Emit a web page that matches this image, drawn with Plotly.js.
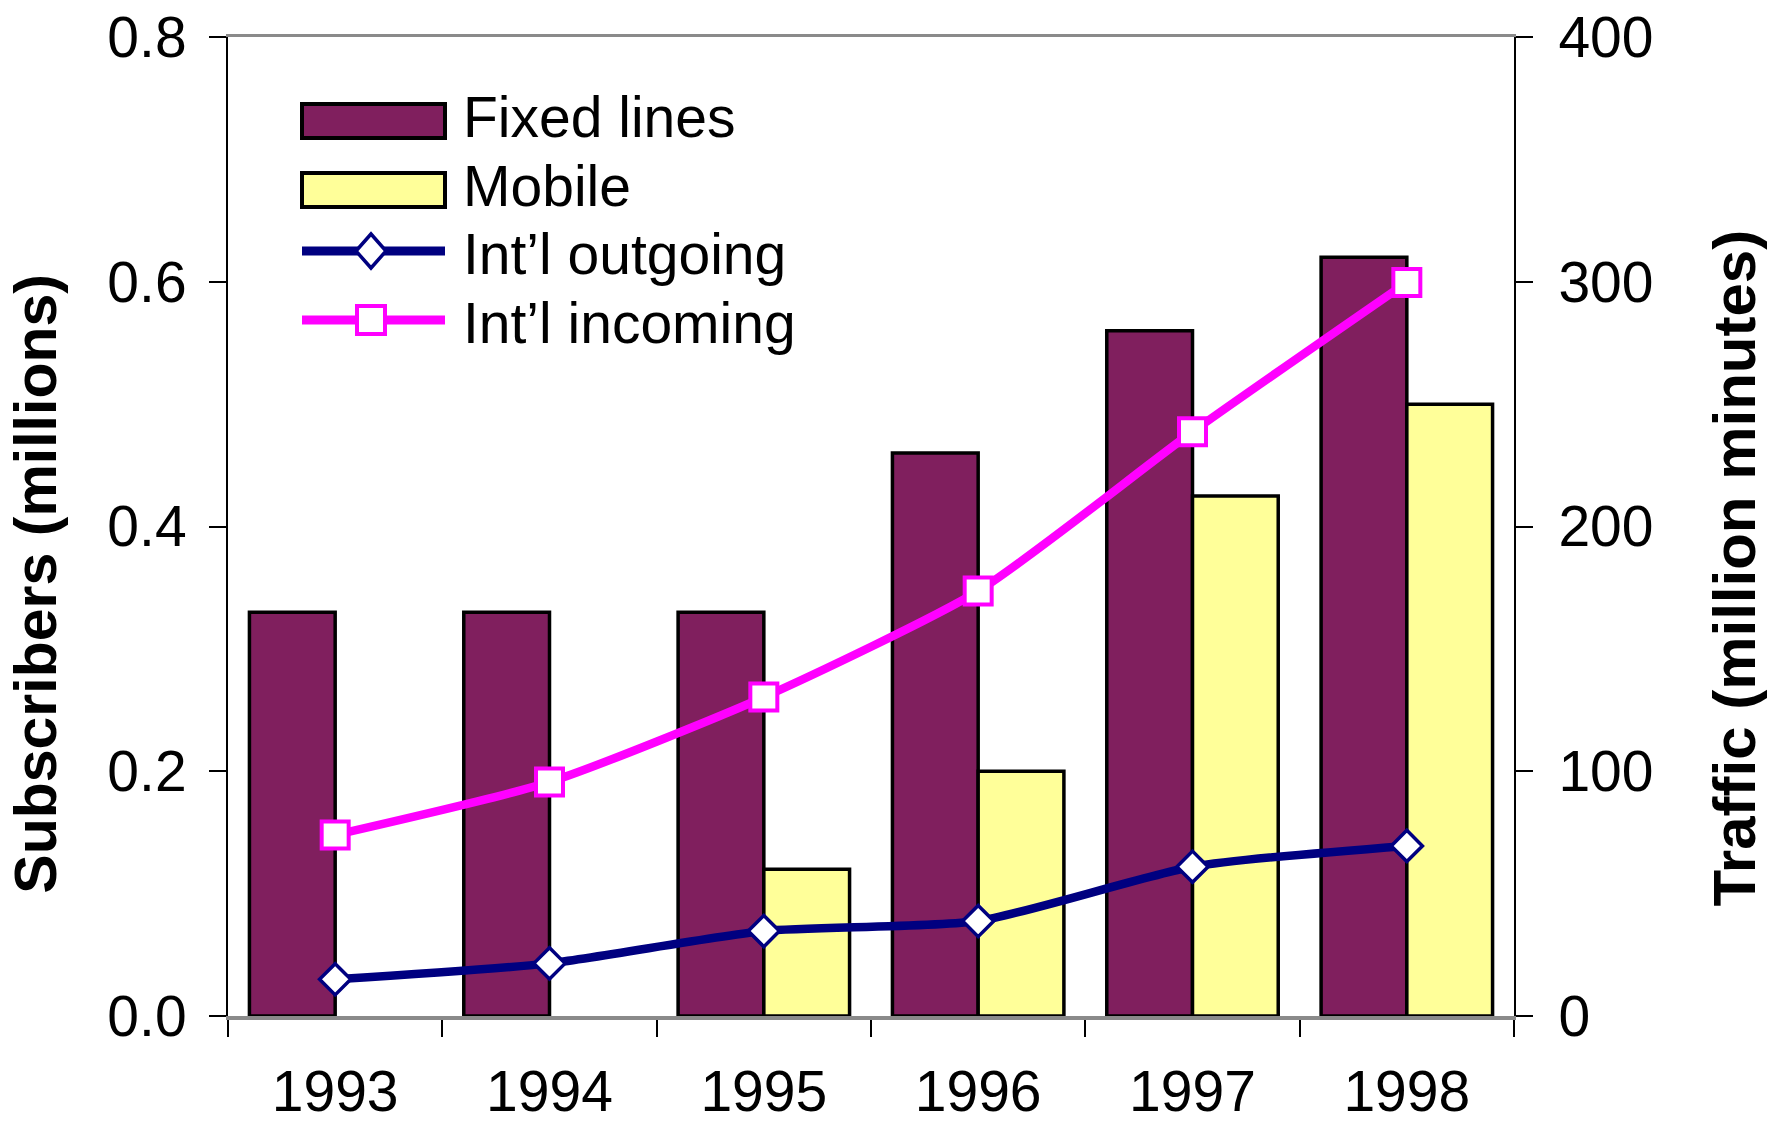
<!DOCTYPE html>
<html>
<head>
<meta charset="utf-8">
<script src="https://cdn.plot.ly/plotly-3.0.1.min.js"></script>
<style>html,body{margin:0;padding:0;background:#fff;}#chart{width:1772px;height:1124px;}</style>
</head>
<body>
<div id="chart"></div>
<script>
// ---- data ----
const years = ['1993', '1994', '1995', '1996', '1997', '1998'];
const fixedLines = [0.33, 0.33, 0.33, 0.46, 0.56, 0.62];        // millions of subscribers
const mobile = [null, null, 0.12, 0.20, 0.425, 0.50];           // millions of subscribers
const intlOutgoing = [15, 21.5, 34.7, 38.8, 61, 69.5];          // million minutes
const intlIncoming = [74, 95.6, 130.3, 173.6, 238.7, 299.7];    // million minutes
const seriesNames = ['Fixed lines', 'Mobile', 'Int\u2019l outgoing', 'Int\u2019l incoming'];
const leftTicks = [0, 0.2, 0.4, 0.6, 0.8];
const rightTicks = [0, 100, 200, 300, 400];

// ---- style ----
const FONT = 'Liberation Sans, Arial, Helvetica, sans-serif';
const C_FIXED = '#801F5E', C_MOBILE = '#FFFF99', C_OUT = '#000080', C_IN = '#FF00FF';
const W = 1772, H = 1124, ML = 228, MR = 258, MT = 37, MB = 108;
const PW = W - ML - MR, PH = H - MT - MB;
const pxX = x => (x - ML) / PW;
const pxY = y => 1 - (y - MT) / PH;
// invisible trailing text used only to shift the centred axis titles like in the reference
const pad = s => '<span style="color:rgba(0,0,0,0)">' + s + '</span>';

const traces = [
  {type: 'bar', name: seriesNames[0], x: years, y: fixedLines, yaxis: 'y', xaxis: 'x',
   marker: {color: C_FIXED, line: {color: '#000', width: 3.5}}},
  {type: 'bar', name: seriesNames[1], x: years, y: mobile, yaxis: 'y', xaxis: 'x',
   marker: {color: C_MOBILE, line: {color: '#000', width: 3.5}}},
  {type: 'scatter', mode: 'lines+markers', name: seriesNames[2], x: years, y: intlOutgoing, yaxis: 'y2', xaxis: 'x',
   line: {color: C_OUT, width: 8.5, shape: 'spline', smoothing: 0.6},
   marker: {symbol: 'diamond', size: 24, color: '#fff', line: {color: C_OUT, width: 3.5}}},
  {type: 'scatter', mode: 'lines+markers', name: seriesNames[3], x: years, y: intlIncoming, yaxis: 'y2', xaxis: 'x',
   line: {color: C_IN, width: 8.5, shape: 'spline', smoothing: 0.6},
   marker: {symbol: 'square', size: 27, color: '#fff', line: {color: C_IN, width: 4}}}
];

// custom legend (wide swatches like the reference)
const rows = [121, 190, 251, 320];
const textDy = [-4, -4, 3, 3];
const sx0 = pxX(302), sx1 = pxX(445), mx = pxX(371);
const shapes = [
  {type: 'rect', xref: 'paper', yref: 'paper', x0: sx0, x1: sx1, y0: pxY(rows[0] + 17), y1: pxY(rows[0] - 17),
   fillcolor: C_FIXED, line: {color: '#000', width: 4}},
  {type: 'rect', xref: 'paper', yref: 'paper', x0: sx0, x1: sx1, y0: pxY(rows[1] + 17), y1: pxY(rows[1] - 17),
   fillcolor: C_MOBILE, line: {color: '#000', width: 4}},
  {type: 'line', xref: 'paper', yref: 'paper', x0: sx0, x1: sx1, y0: pxY(rows[2]), y1: pxY(rows[2]),
   line: {color: C_OUT, width: 9}},
  {type: 'path', xref: 'paper', yref: 'paper',
   path: 'M' + pxX(356) + ',' + pxY(rows[2]) + ' L' + mx + ',' + pxY(rows[2] - 17) + ' L' + pxX(386) + ',' + pxY(rows[2]) +
         ' L' + mx + ',' + pxY(rows[2] + 17) + ' Z',
   fillcolor: '#fff', line: {color: C_OUT, width: 3.5}},
  {type: 'line', xref: 'paper', yref: 'paper', x0: sx0, x1: sx1, y0: pxY(rows[3]), y1: pxY(rows[3]),
   line: {color: C_IN, width: 9}},
  {type: 'rect', xref: 'paper', yref: 'paper', x0: pxX(357), x1: pxX(385), y0: pxY(rows[3] + 14), y1: pxY(rows[3] - 14),
   fillcolor: '#fff', line: {color: C_IN, width: 4}}
];
const annotations = seriesNames.map((t, i) => ({
  xref: 'paper', yref: 'paper', x: pxX(461), y: pxY(rows[i] + textDy[i]), xanchor: 'left', yanchor: 'middle',
  text: t, showarrow: false, font: {family: FONT, size: 57, color: '#000'}
}));

const tickFont = {family: FONT, size: 57, color: '#000'};
const titleFontL = {family: FONT, size: 59, color: '#000', weight: 'bold'};
const titleFontR = {family: FONT, size: 60, color: '#000', weight: 'bold'};

const layout = {
  width: W, height: H,
  margin: {l: ML, r: MR, t: MT, b: MB, pad: 0},
  paper_bgcolor: '#fff', plot_bgcolor: '#fff',
  showlegend: false,
  barmode: 'group', bargap: 0.2, bargroupgap: 0,
  font: {family: FONT, color: '#000'},
  xaxis: {type: 'category', categoryorder: 'array', categoryarray: years, range: [-0.5, 5.5],
    tickson: 'boundaries', ticks: 'outside', ticklen: 17, tickwidth: 2, tickcolor: '#000',
    showline: true, linecolor: '#8a8a8a', linewidth: 3.5, mirror: true, layer: 'below traces',
    showgrid: false, zeroline: false, tickfont: tickFont, ticklabelstandoff: 23, fixedrange: true},
  xaxis2: {overlaying: 'x', anchor: 'y', side: 'bottom', range: [-0.5, 5.5], tickmode: 'array',
    tickvals: [-0.5, 0.5, 1.5, 2.5, 3.5, 4.5, 5.5], ticks: 'inside', ticklen: 16, tickwidth: 2, tickcolor: '#000',
    showticklabels: false, showline: false, showgrid: false, zeroline: false, fixedrange: true},
  yaxis: {range: [0, 0.8], tickmode: 'array', tickvals: leftTicks, tickformat: '.1f',
    ticks: 'outside', ticklen: 17, tickwidth: 2, tickcolor: '#000',
    showline: true, linecolor: '#000', linewidth: 2, showgrid: false, zeroline: false,
    tickfont: tickFont, ticklabelstandoff: 11, fixedrange: true,
    title: {text: 'Subscribers (millions)' + pad('iiiiiii'), font: titleFontL, standoff: 32}},
  yaxis2: {overlaying: 'y', side: 'right', anchor: 'x', range: [0, 400], tickmode: 'array', tickvals: rightTicks,
    ticks: 'outside', ticklen: 17, tickwidth: 2, tickcolor: '#000',
    showline: true, linecolor: '#000', linewidth: 2, showgrid: false, zeroline: false,
    tickfont: tickFont, ticklabelstandoff: 14, fixedrange: true,
    title: {text: 'Traffic (million minutes)' + pad('iiiii'), font: titleFontR, standoff: 60}},
  yaxis3: {overlaying: 'y', side: 'left', anchor: 'x', range: [0, 0.8], tickmode: 'array', tickvals: leftTicks,
    ticks: 'inside', ticklen: 14, tickwidth: 2, tickcolor: '#000', showticklabels: false,
    showline: false, showgrid: false, zeroline: false, fixedrange: true},
  yaxis4: {overlaying: 'y', side: 'right', anchor: 'x', range: [0, 400], tickmode: 'array', tickvals: rightTicks,
    ticks: 'inside', ticklen: 16, tickwidth: 2, tickcolor: '#000', showticklabels: false,
    showline: false, showgrid: false, zeroline: false, fixedrange: true},
  shapes: shapes,
  annotations: annotations
};

Plotly.newPlot('chart', traces, layout, {staticPlot: true, displayModeBar: false});
</script>
</body>
</html>
